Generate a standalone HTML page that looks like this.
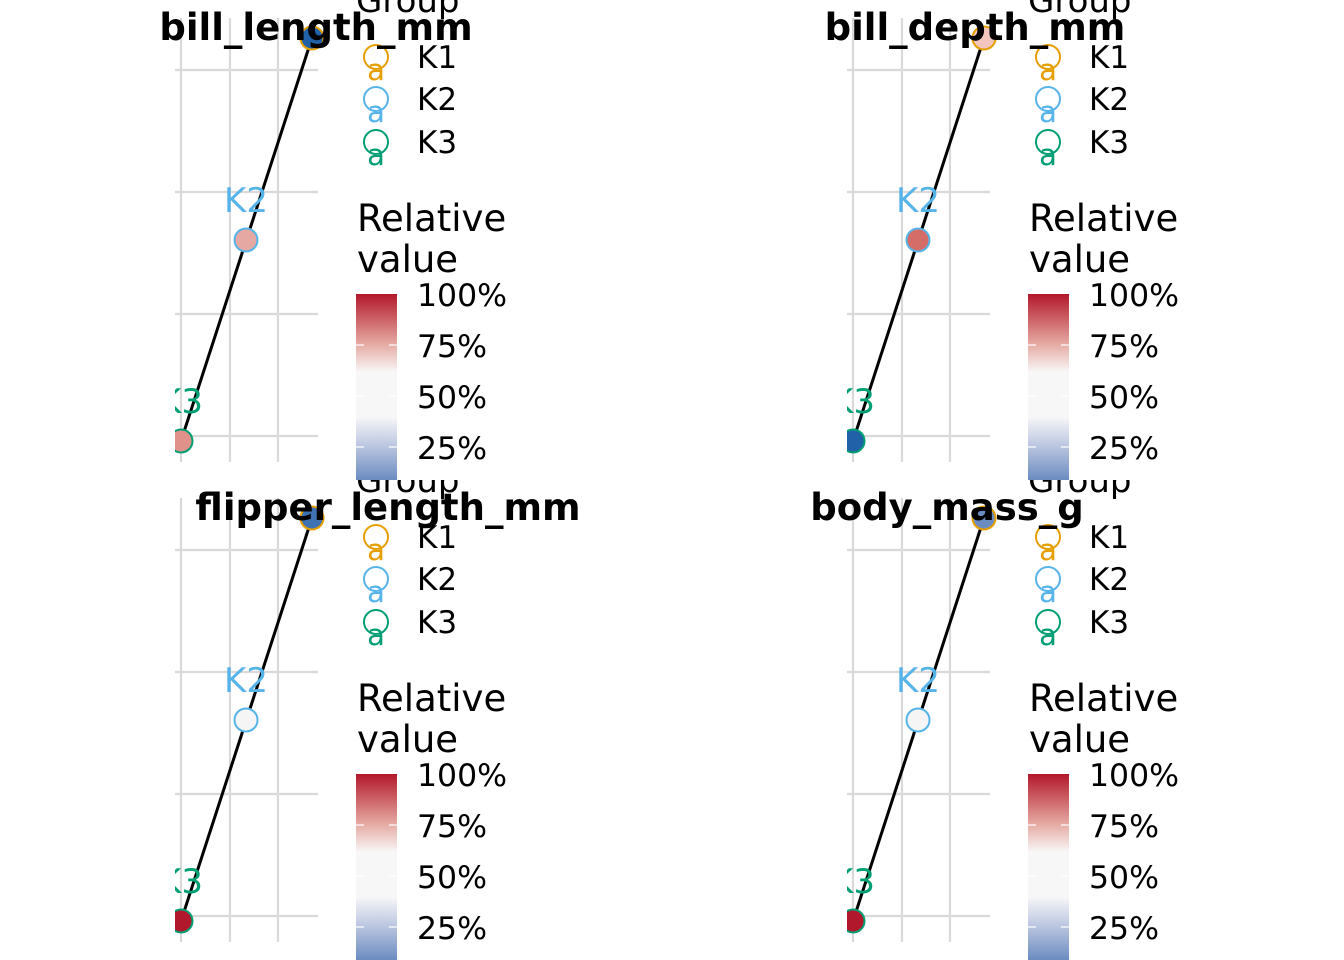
<!DOCTYPE html>
<html><head><meta charset="utf-8"><style>
html,body{margin:0;padding:0;background:#fff;}
svg{display:block;font-family:"DejaVu Sans","Liberation Sans",sans-serif;}
</style></head><body>
<svg width="1344" height="960" viewBox="0 0 1344 960" xmlns="http://www.w3.org/2000/svg">
<defs>
<linearGradient id="cb" x1="0" y1="0" x2="0" y2="1">
<stop offset="0" stop-color="#B2182B"/>
<stop offset="0.27" stop-color="#E6ABA3"/>
<stop offset="0.42" stop-color="#F7F7F7"/>
<stop offset="0.66" stop-color="#F7F7F7"/>
<stop offset="0.82" stop-color="#BAC5DF"/>
<stop offset="1" stop-color="#6A8CC0"/>
</linearGradient>
<clipPath id="pc"><rect x="175" y="0" width="170" height="470"/></clipPath>
<clipPath id="cell"><rect x="0" y="0" width="672" height="480"/></clipPath>
<g id="legend">
<rect x="356" y="294" width="41" height="186" fill="url(#cb)"/>
<g stroke="#fff" stroke-width="1.2">
<line x1="356" y1="345" x2="364" y2="345"/><line x1="389" y1="345" x2="397" y2="345"/>
<line x1="356" y1="396" x2="364" y2="396"/><line x1="389" y1="396" x2="397" y2="396"/>
<line x1="356" y1="447" x2="364" y2="447"/><line x1="389" y1="447" x2="397" y2="447"/>
</g>
<text x="356" y="12" font-size="34">Group</text>
<circle cx="376" cy="57" r="12" fill="none" stroke="#E69F00" stroke-width="2"/>
<text x="376" y="80" font-size="29" fill="#E69F00" text-anchor="middle">a</text>
<circle cx="376" cy="99" r="12" fill="none" stroke="#56B4E9" stroke-width="2"/>
<text x="376" y="122" font-size="29" fill="#56B4E9" text-anchor="middle">a</text>
<circle cx="376" cy="142" r="12" fill="none" stroke="#009E73" stroke-width="2"/>
<text x="376" y="165" font-size="29" fill="#009E73" text-anchor="middle">a</text>
<g font-size="31">
<text x="417" y="68">K1</text><text x="417" y="110">K2</text><text x="417" y="153">K3</text>
</g>
<g font-size="37"><text x="357" y="231">Relative</text><text x="357" y="272">value</text></g>
<g font-size="31.5">
<text x="417" y="306">100%</text><text x="417" y="357">75%</text>
<text x="417" y="408">50%</text><text x="417" y="459">25%</text>
</g>
</g>
<g id="grid" stroke="#D9D9D9" stroke-width="2.2">
<line x1="181" y1="18" x2="181" y2="462"/><line x1="230" y1="18" x2="230" y2="462"/><line x1="278" y1="18" x2="278" y2="462"/>
<line x1="175" y1="70" x2="318" y2="70"/><line x1="175" y1="192" x2="318" y2="192"/>
<line x1="175" y1="314" x2="318" y2="314"/><line x1="175" y1="436" x2="318" y2="436"/>
</g>
</defs>

<g clip-path="url(#cell)">
<use href="#grid"/>
<g clip-path="url(#pc)">
<line x1="312" y1="38" x2="181" y2="441" stroke="#000" stroke-width="3"/>
<circle cx="246" cy="240" r="11.5" fill="#E5A8A3" stroke="#56B4E9" stroke-width="2"/>
<circle cx="181" cy="441" r="11.5" fill="#E0928A" stroke="#009E73" stroke-width="2"/>
<text x="246" y="212" font-size="34" fill="#56B4E9" text-anchor="middle">K2</text>
<text x="181" y="413" font-size="34" fill="#009E73" text-anchor="middle">K3</text>
</g>
<circle cx="312" cy="38" r="11.5" fill="#2161A8" stroke="#E69F00" stroke-width="2"/>
<use href="#legend"/>
<text x="316" y="40" font-size="37" font-weight="bold" text-anchor="middle">bill_length_mm</text>
</g>

<g transform="translate(672,0)"><g clip-path="url(#cell)">
<use href="#grid"/>
<g clip-path="url(#pc)">
<line x1="312" y1="38" x2="181" y2="441" stroke="#000" stroke-width="3"/>
<circle cx="246" cy="240" r="11.5" fill="#D46C67" stroke="#56B4E9" stroke-width="2"/>
<circle cx="181" cy="441" r="11.5" fill="#2161A8" stroke="#009E73" stroke-width="2"/>
<text x="246" y="212" font-size="34" fill="#56B4E9" text-anchor="middle">K2</text>
<text x="181" y="413" font-size="34" fill="#009E73" text-anchor="middle">K3</text>
</g>
<circle cx="312" cy="38" r="11.5" fill="#F2C6BE" stroke="#E69F00" stroke-width="2"/>
<use href="#legend"/>
<text x="303" y="40" font-size="37" font-weight="bold" text-anchor="middle">bill_depth_mm</text>
</g></g>

<g transform="translate(0,480)"><g clip-path="url(#cell)">
<use href="#grid"/>
<g clip-path="url(#pc)">
<line x1="312" y1="38" x2="181" y2="441" stroke="#000" stroke-width="3"/>
<circle cx="246" cy="240" r="11.5" fill="#F5F5F5" stroke="#56B4E9" stroke-width="2"/>
<circle cx="181" cy="441" r="11.5" fill="#B2182B" stroke="#009E73" stroke-width="2"/>
<text x="246" y="212" font-size="34" fill="#56B4E9" text-anchor="middle">K2</text>
<text x="181" y="413" font-size="34" fill="#009E73" text-anchor="middle">K3</text>
</g>
<circle cx="312" cy="38" r="11.5" fill="#3F72B3" stroke="#E69F00" stroke-width="2"/>
<use href="#legend"/>
<text x="388" y="40" font-size="37" font-weight="bold" text-anchor="middle">flipper_length_mm</text>
</g></g>

<g transform="translate(672,480)"><g clip-path="url(#cell)">
<use href="#grid"/>
<g clip-path="url(#pc)">
<line x1="312" y1="38" x2="181" y2="441" stroke="#000" stroke-width="3"/>
<circle cx="246" cy="240" r="11.5" fill="#F5F5F5" stroke="#56B4E9" stroke-width="2"/>
<circle cx="181" cy="441" r="11.5" fill="#B2182B" stroke="#009E73" stroke-width="2"/>
<text x="246" y="212" font-size="34" fill="#56B4E9" text-anchor="middle">K2</text>
<text x="181" y="413" font-size="34" fill="#009E73" text-anchor="middle">K3</text>
</g>
<circle cx="312" cy="38" r="11.5" fill="#6A8CC0" stroke="#E69F00" stroke-width="2"/>
<use href="#legend"/>
<text x="275" y="40" font-size="37" font-weight="bold" text-anchor="middle">body_mass_g</text>
</g></g>
</svg>
</body></html>
